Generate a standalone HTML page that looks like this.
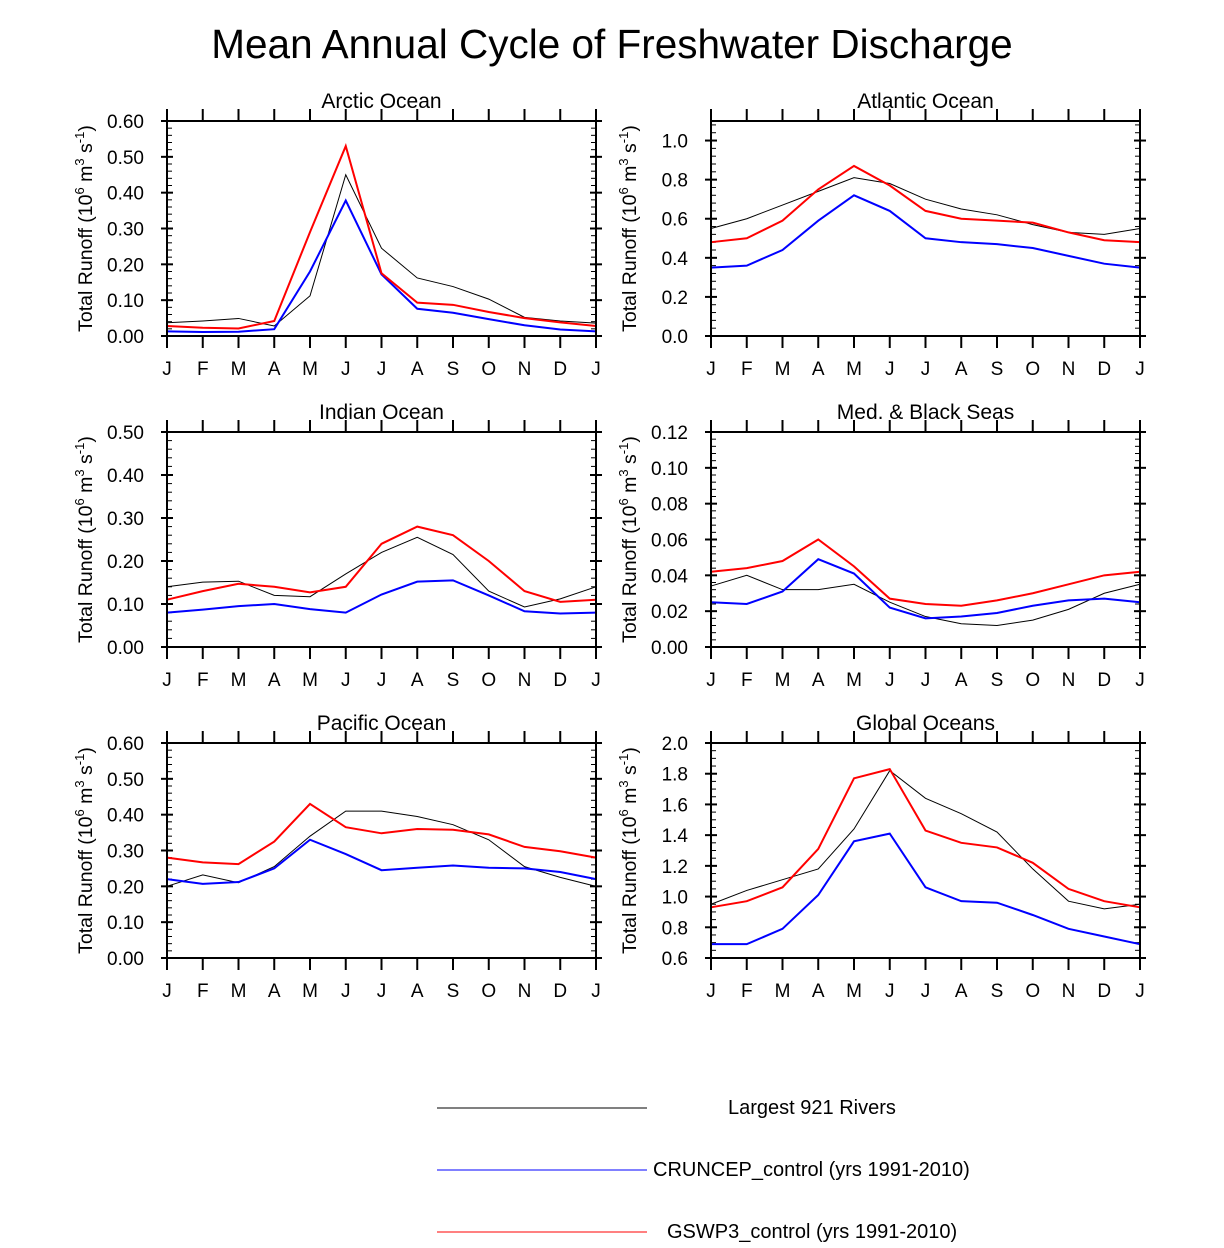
<!DOCTYPE html>
<html><head><meta charset="utf-8"><style>
body{margin:0;background:#fff}
svg text{font-family:"Liberation Sans",sans-serif;fill:#000}
</style></head><body>
<svg id="chart" width="1224" height="1243" xmlns="http://www.w3.org/2000/svg">
<text x="612" y="58" font-size="40.5" text-anchor="middle">Mean Annual Cycle of Freshwater Discharge</text>
<g id="panels"></g>
<g>
<line x1="437" y1="1108" x2="647" y2="1108" stroke="#000" stroke-width="1"/>
<text x="728" y="1114" font-size="20">Largest 921 Rivers</text>
<line x1="437" y1="1170" x2="647" y2="1170" stroke="#00f" stroke-width="1"/>
<text x="653" y="1176" font-size="20">CRUNCEP_control (yrs 1991-2010)</text>
<line x1="437" y1="1232" x2="647" y2="1232" stroke="#f00" stroke-width="1"/>
<text x="667" y="1238" font-size="20">GSWP3_control (yrs 1991-2010)</text>
</g>
</svg>
<script>
const months=["J","F","M","A","M","J","J","A","S","O","N","D","J"];
const panelTitles=["Arctic Ocean","Atlantic Ocean","Indian Ocean","Med. & Black Seas","Pacific Ocean","Global Oceans"];
const arcticRivers=[.037,.042,.049,.028,.112,.45,.245,.162,.138,.103,.052,.042,.036];
const arcticGswp=[.028,.023,.021,.042,.29,.53,.175,.093,.087,.067,.05,.038,.028];
const arcticCru=[.013,.011,.012,.019,.18,.378,.172,.076,.065,.047,.03,.018,.013];
const atlanticRivers=[.55,.60,.67,.74,.81,.78,.70,.65,.62,.57,.53,.52,.55];
const atlanticGswp=[.48,.50,.59,.75,.87,.77,.64,.60,.59,.58,.53,.49,.48];
const atlanticCru=[.35,.36,.44,.59,.72,.64,.50,.48,.47,.45,.41,.37,.35];
const indianRivers=[.14,.151,.153,.12,.117,.17,.22,.255,.215,.13,.093,.112,.14];
const indianGswp=[.11,.13,.147,.14,.127,.14,.24,.28,.26,.20,.13,.105,.11];
const indianCru=[.08,.087,.095,.10,.088,.08,.122,.152,.155,.12,.083,.078,.08];
const medRivers=[.034,.040,.032,.032,.035,.025,.017,.013,.012,.015,.021,.030,.035];
const medGswp=[.042,.044,.048,.060,.045,.027,.024,.023,.026,.030,.035,.040,.042];
const medCru=[.025,.024,.031,.049,.041,.022,.016,.017,.019,.023,.026,.027,.025];
const pacificRivers=[.20,.232,.21,.255,.34,.41,.41,.395,.372,.33,.255,.225,.20];
const pacificGswp=[.28,.267,.262,.325,.43,.365,.348,.36,.358,.345,.31,.298,.28];
const pacificCru=[.22,.207,.212,.25,.33,.29,.245,.252,.258,.252,.25,.24,.22];
const globalRivers=[.95,1.04,1.11,1.18,1.44,1.82,1.64,1.54,1.42,1.18,.97,.92,.95];
const globalGswp=[.93,.97,1.06,1.31,1.77,1.83,1.43,1.35,1.32,1.22,1.05,.97,.93];
const globalCru=[.69,.69,.79,1.01,1.36,1.41,1.06,.97,.96,.88,.79,.74,.69];
const yMins=[0,0,0,0,0,0.6];
const yMaxs=[0.6,1.1,0.5,0.12,0.6,2.0];
const yMajors=[0.1,0.2,0.1,0.02,0.1,0.2];
const yDecimals=[2,1,2,2,2,1];
const riversSeries=[arcticRivers,atlanticRivers,indianRivers,medRivers,pacificRivers,globalRivers];
const gswpSeries=[arcticGswp,atlanticGswp,indianGswp,medGswp,pacificGswp,globalGswp];
const cruSeries=[arcticCru,atlanticCru,indianCru,medCru,pacificCru,globalCru];

const NS="http://www.w3.org/2000/svg";
const root=document.getElementById('panels');
function mk(tag,attrs,parent){const e=document.createElementNS(NS,tag);for(const k in attrs)e.setAttribute(k,attrs[k]);parent.appendChild(e);return e;}
const lefts=[167,711], tops=[121,432,743], W=429, H=215;
for(let p=0;p<6;p++){
  const x0=lefts[p%2], y0=tops[Math.floor(p/2)];
  const g=mk('g',{},root);
  
  
  const ymin=yMins[p], ymax=yMaxs[p];
  const X=i=>x0+i*W/12;
  const Y=v=>y0+H-(v-ymin)/(ymax-ymin)*H;
  const t=mk('text',{x:x0+W/2,y:y0-13,'font-size':21,'text-anchor':'middle'},g);
  t.textContent=panelTitles[p];
  
  
  for(let i=0;i<13;i++){
    mk('line',{x1:X(i),y1:y0+H,x2:X(i),y2:y0+H+12,stroke:'#000','stroke-width':2},g);
    mk('line',{x1:X(i),y1:y0,x2:X(i),y2:y0-12,stroke:'#000','stroke-width':2},g);
    const lt=mk('text',{x:X(i),y:y0+H+39,'font-size':19,'text-anchor':'middle'},g);
    lt.textContent=months[i];
    
    
  }
  const maj=yMajors[p], minr=maj/ (p==5?4:5);
  for(let v=ymin;v<=ymax+1e-9;v+=minr){
    const yy=Y(v);
    mk('line',{x1:x0,y1:yy,x2:x0+5,y2:yy,stroke:'#000','stroke-width':1},g);
    mk('line',{x1:x0+W,y1:yy,x2:x0+W-5,y2:yy,stroke:'#000','stroke-width':1},g);
  }
  for(let k=0;ymin+k*maj<=ymax+1e-9;k++){
    const v=ymin+k*maj, yy=Y(v);
    mk('line',{x1:x0-6,y1:yy,x2:x0+6,y2:yy,stroke:'#000','stroke-width':2},g);
    mk('line',{x1:x0+W-6,y1:yy,x2:x0+W+6,y2:yy,stroke:'#000','stroke-width':2},g);
    const lt=mk('text',{x:x0-23,y:yy+7,'font-size':19,'text-anchor':'end'},g);
    lt.textContent=v.toFixed(yDecimals[p]);
    
    
  }
  const yt=mk('text',{transform:`translate(${x0-75},${y0+H/2}) rotate(-90)`,'font-size':19.5,'text-anchor':'middle'},g);
  yt.innerHTML='Total Runoff (10<tspan dy="-8" font-size="13">6</tspan><tspan dy="8"> m</tspan><tspan dy="-8" font-size="13">3</tspan><tspan dy="8"> s</tspan><tspan dy="-8" font-size="13">-1</tspan><tspan dy="8">)</tspan>';
  
  
  const series=[[riversSeries[p],'#000',1,'rivers'],[cruSeries[p],'#00f',2,'cruncep'],[gswpSeries[p],'#f00',2,'gswp3']];
  for(const [d,c,w,n] of series){
    const pl=mk('polyline',{points:d.map((v,i)=>X(i)+','+Y(v)).join(' '),fill:'none',stroke:c,'stroke-width':w},g);
    
    
  }
  mk('rect',{x:x0,y:y0,width:W,height:H,fill:'none',stroke:'#000','stroke-width':2},g);
}
</script>
</body></html>
